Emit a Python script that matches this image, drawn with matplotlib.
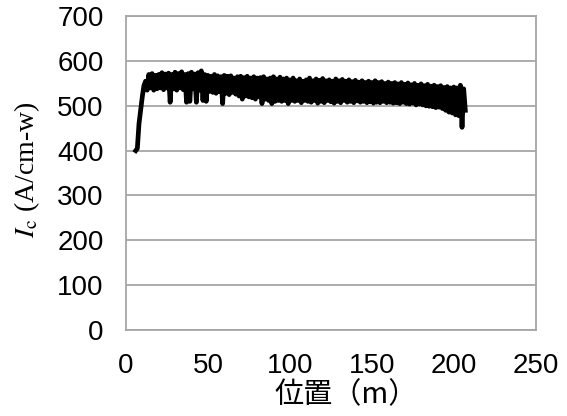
import numpy as np
import matplotlib.pyplot as plt

plt.rcParams['font.family'] = ['Liberation Sans', 'DejaVu Sans']
plt.rcParams['mathtext.fontset'] = 'stix'

# Position (m) and Ic (A/cm-w)
pos = np.arange(6, 208)
ic = [400, 405, 460, 490, 520, 545, 555, 535, 570, 540,
      572, 535, 568, 538, 570, 540, 574, 536, 571, 540,
      573, 508, 570, 538, 575, 535, 572, 540, 576, 536,
      570, 508, 572, 510, 575, 538, 571, 508, 574, 535,
      578, 512, 570, 510, 568, 532, 566, 530, 570, 528,
      567, 532, 565, 505, 568, 528, 566, 525, 567, 530,
      562, 526, 565, 522, 566, 515, 563, 522, 566, 520,
      562, 518, 565, 515, 562, 520, 563, 505, 565, 515,
      560, 512, 562, 505, 565, 510, 560, 512, 564, 510,
      560, 512, 562, 505, 558, 512, 562, 510, 556, 512,
      560, 507, 555, 512, 558, 510, 562, 508, 556, 512,
      560, 506, 557, 510, 561, 507, 556, 512, 558, 509,
      555, 506, 560, 510, 556, 507, 559, 512, 555, 508,
      558, 510, 554, 507, 557, 511, 553, 508, 556, 510,
      552, 507, 555, 509, 552, 506, 556, 508, 552, 507,
      554, 510, 550, 507, 553, 508, 550, 506, 552, 507,
      549, 505, 552, 508, 548, 505, 551, 504, 547, 506,
      550, 502, 546, 504, 549, 502, 545, 500, 548, 499,
      544, 498, 546, 496, 543, 497, 545, 494, 541, 490,
      543, 486, 540, 484, 542, 480, 540, 478, 546, 452,
      538, 490]

fig = plt.figure(figsize=(5.67, 4.16), dpi=100)
ax = fig.add_axes([0.222, 0.207, 0.723, 0.754])

ax.plot(pos, ic, color='black', lw=3.4, solid_joinstyle='round', zorder=3)

ax.set_xlim(0, 250)
ax.set_ylim(0, 700)
ax.set_xticks([0, 50, 100, 150, 200, 250])
ax.set_yticks(range(0, 701, 100))
ax.tick_params(length=0, labelsize=20)
ax.tick_params(axis='y', pad=16)
ax.tick_params(axis='x', pad=17)
ax.yaxis.grid(True, color='#a6a6a6', lw=1.3)
ax.set_axisbelow(True)
for s in ax.spines.values():
    s.set_color('#a6a6a6')
    s.set_linewidth(1.3)

ax.set_ylabel(r'$I_{\mathrm{c}}$ (A/cm-w)', family='Liberation Serif',
              fontsize=20)
ax.yaxis.set_label_coords(-0.205, 0.51)
ax.set_xlabel('位置（m）', family=['Noto Sans CJK JP', 'DejaVu Sans'],
              fontsize=21)
ax.xaxis.set_label_coords(0.537, -0.16)

fig.savefig('out.png', dpi=100)
